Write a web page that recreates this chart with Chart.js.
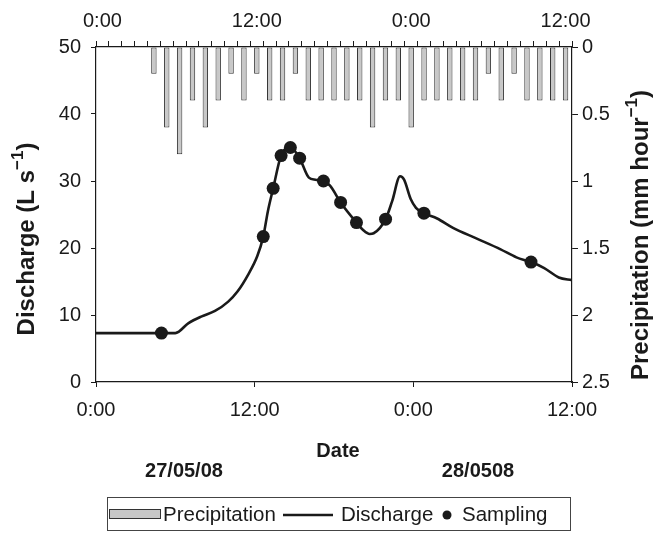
<!DOCTYPE html>
<html>
<head>
<meta charset="utf-8">
<script src="https://cdn.jsdelivr.net/npm/chart.js@4/dist/chart.umd.min.js"></script>
<style>
  html, body { margin: 0; padding: 0; background: #fff; }
  #wrap { width: 653px; height: 533px; }
</style>
</head>
<body>
<div id="wrap"><canvas id="c" width="653" height="533"></canvas></div>
<script>
// Hourly categories for the rainfall bars (27/05/08 0:00 to 28/05/08 12:00)
const hourLabels = [
  '0:00','1:00','2:00','3:00','4:00','5:00','6:00','7:00','8:00','9:00','10:00','11:00',
  '12:00','13:00','14:00','15:00','16:00','17:00','18:00','19:00','20:00','21:00','22:00','23:00',
  '0:00','1:00','2:00','3:00','4:00','5:00','6:00','7:00','8:00','9:00','10:00','11:00','12:00'
];
// Hourly precipitation (mm hour-1)
const precipitation = [
  0, 0, 0, 0, 0.2, 0.6, 0.8, 0.4, 0.6, 0.4, 0.2, 0.4,
  0.2, 0.4, 0.4, 0.2, 0.4, 0.4, 0.4, 0.4, 0.4, 0.6, 0.4, 0.4,
  0.6, 0.4, 0.4, 0.4, 0.4, 0.4, 0.2, 0.4, 0.2, 0.4, 0.4, 0.4, 0.4
];
// Discharge hydrograph (hours since 27/05/08 0:00, L s-1)
const dischargeHours = [
  0, 6.0, 7.0, 8.0, 9.0, 10.0, 10.7, 11.5, 12.2, 12.65, 13.0, 13.4, 14.0, 14.7, 15.4,
  16.1, 16.6, 17.2, 17.7, 18.5, 19.7, 20.2, 20.7, 21.0, 21.9, 22.4, 23.0, 23.3, 23.8,
  24.2, 24.8, 25.8, 27.0, 28.8, 30.6, 31.8, 32.9, 33.9, 35.0, 36.0
];
const dischargeValues = [
  7.3, 7.3, 8.8, 9.8, 10.6, 12.0, 13.5, 16.0, 18.8, 21.7, 25.5, 28.9, 33.8, 35.0, 33.4,
  30.5, 30.2, 30.0, 29.3, 26.8, 23.8, 22.7, 22.1, 22.2, 24.3, 27.0, 30.7, 30.2, 27.3,
  26.0, 25.2, 24.4, 23.0, 21.4, 19.8, 18.6, 17.9, 17.0, 15.6, 15.2
];
// Water sampling times and the discharge at each
const samplingHours = [4.95, 12.65, 13.4, 14.0, 14.7, 15.4, 17.2, 18.5, 19.7, 21.9, 24.8, 32.9];
const samplingValues = [7.3, 21.7, 28.9, 33.8, 35.0, 33.4, 30.0, 26.8, 23.8, 24.3, 25.2, 17.9];
// Bottom time axis labels (every 12 h) and the day labels
const bottomTicks = [0, 12, 24, 36];
const bottomTickLabels = ['0:00', '12:00', '0:00', '12:00'];
const dateLabels = ['27/05/08', '28/0508'];
const legendLabels = ['Precipitation', 'Discharge', 'Sampling'];

const FONT = "'Liberation Sans', Arial, sans-serif";
const INK = '#1a1a1a';
const BAR_FILL = '#c8c8c8';
Chart.defaults.font.family = FONT;
Chart.defaults.font.size = 20;
Chart.defaults.color = INK;

// Draws a rotated (bottom-to-top) label with a superscript part
function drawRich(ctx, parts, cx, cy, size) {
  const base = 'bold ' + size + 'px ' + FONT, sup = 'bold ' + Math.round(size * 0.7) + 'px ' + FONT;
  ctx.save();
  ctx.translate(cx, cy);
  ctx.rotate(-Math.PI / 2);
  let total = 0;
  parts.forEach(p => { ctx.font = p.sup ? sup : base; p.w = ctx.measureText(p.text).width; total += p.w; });
  let x = -total / 2;
  ctx.textBaseline = 'middle';
  ctx.textAlign = 'left';
  ctx.fillStyle = INK;
  parts.forEach(p => {
    ctx.font = p.sup ? sup : base;
    ctx.fillText(p.text, x, p.sup ? -size * 0.36 : 0);
    x += p.w;
  });
  ctx.restore();
}

const annotations = {
  id: 'annotations',
  afterDraw(chart) {
    const ctx = chart.ctx;
    const area = chart.chartArea;
    drawRich(ctx, [{ text: 'Discharge (L s' }, { text: '\u22121', sup: true }, { text: ')' }], 27, 239, 24);
    drawRich(ctx, [{ text: 'Precipitation (mm hour' }, { text: '\u22121', sup: true }, { text: ')' }], 641, 235, 24);

    ctx.save();
    ctx.fillStyle = INK;
    ctx.font = 'bold 20px ' + FONT;
    ctx.textAlign = 'center';
    ctx.textBaseline = 'middle';
    ctx.fillText('Date', (area.left + area.right) / 2 + 4, 451);
    ctx.fillText(dateLabels[0], 184, 471);
    ctx.fillText(dateLabels[1], 478, 471);

    // Legend box
    ctx.strokeStyle = '#444';
    ctx.lineWidth = 1;
    ctx.strokeRect(107.5, 497.5, 463, 33);
    const ty = 515;
    ctx.fillStyle = BAR_FILL;
    ctx.fillRect(109.5, ty - 5.5, 51, 9);
    ctx.strokeStyle = '#333';
    ctx.strokeRect(109.5, ty - 5.5, 51, 9);
    ctx.font = '20.5px ' + FONT;
    ctx.textAlign = 'left';
    ctx.fillStyle = INK;
    ctx.fillText(legendLabels[0], 163, ty);
    ctx.strokeStyle = INK;
    ctx.lineWidth = 2.5;
    ctx.beginPath();
    ctx.moveTo(283, ty);
    ctx.lineTo(333, ty);
    ctx.stroke();
    ctx.fillText(legendLabels[1], 341, ty);
    ctx.beginPath();
    ctx.arc(447, ty, 4.5, 0, Math.PI * 2);
    ctx.fill();
    ctx.fillText(legendLabels[2], 462, ty);
    ctx.restore();
  }
};

new Chart(document.getElementById('c'), {
  type: 'bar',
  data: {
    labels: hourLabels,
    datasets: [
      {
        type: 'line',
        label: 'Sampling',
        data: samplingHours.map((h, i) => ({ x: h, y: samplingValues[i] })),
        xAxisID: 'x', yAxisID: 'y',
        showLine: false,
        pointRadius: 6.5,
        pointBackgroundColor: INK,
        pointBorderWidth: 0,
        order: 0
      },
      {
        type: 'line',
        label: 'Discharge',
        data: dischargeHours.map((h, i) => ({ x: h, y: dischargeValues[i] })),
        xAxisID: 'x', yAxisID: 'y',
        borderColor: INK,
        borderWidth: 2.6,
        pointRadius: 0,
        cubicInterpolationMode: 'monotone',
        order: 1
      },
      {
        type: 'bar',
        label: 'Precipitation',
        data: precipitation,
        xAxisID: 'xTop', yAxisID: 'y2',
        backgroundColor: BAR_FILL,
        borderColor: '#333',
        borderWidth: 1,
        borderSkipped: false,
        grouped: false,
        barPercentage: 0.42,
        categoryPercentage: 1,
        order: 2
      }
    ]
  },
  options: {
    responsive: false,
    animation: false,
    devicePixelRatio: 1,
    layout: { padding: 0 },
    plugins: { legend: { display: false }, tooltip: { enabled: false } },
    scales: {
      x: {
        type: 'linear', position: 'bottom', min: 0, max: 36, offset: false,
        afterBuildTicks: s => { s.ticks = bottomTicks.map(v => ({ value: v })); },
        ticks: { callback: v => bottomTickLabels[bottomTicks.indexOf(v)], padding: 11, maxRotation: 0, autoSkip: false },
        grid: { drawOnChartArea: false, tickLength: 5, color: INK, lineWidth: 1, offset: false },
        border: { color: INK, width: 1.2 },
        afterFit: s => { s.height = 151; }
      },
      xTop: {
        type: 'category', position: 'top', labels: hourLabels, offset: true,
        ticks: { autoSkip: false, maxRotation: 0, padding: 8, callback: (v, i) => (i % 12 === 0 ? hourLabels[i] : '') },
        grid: { offset: true, drawOnChartArea: false, tickLength: 6, color: INK, lineWidth: 1 },
        border: { color: INK, width: 1.2 },
        afterFit: s => { s.height = 47; }
      },
      y: {
        type: 'linear', position: 'left', min: 0, max: 50,
        ticks: { stepSize: 10, padding: 10 },
        grid: { drawOnChartArea: false, tickLength: 5, color: INK, lineWidth: 1 },
        border: { color: INK, width: 1.2 },
        afterFit: s => { s.width = 96; }
      },
      y2: {
        type: 'linear', position: 'right', min: 0, max: 2.5, reverse: true,
        ticks: { stepSize: 0.5, padding: 4, callback: v => String(v) },
        grid: { drawOnChartArea: false, tickLength: 6, color: INK, lineWidth: 1 },
        border: { color: INK, width: 1.2 },
        afterFit: s => { s.width = 81; }
      }
    }
  },
  plugins: [annotations]
});
</script>
</body>
</html>
